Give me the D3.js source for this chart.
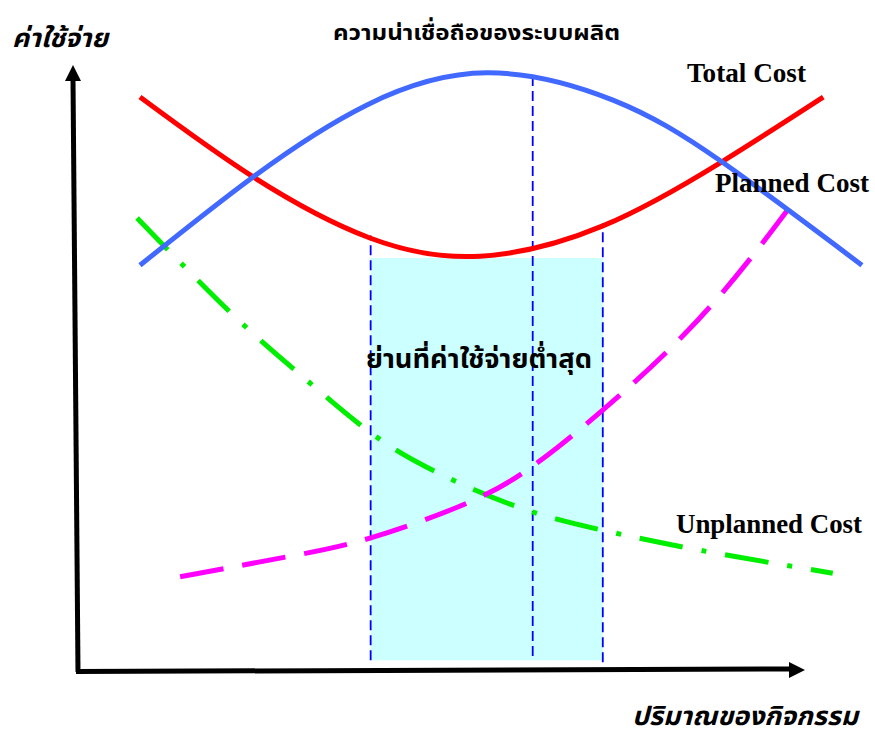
<!DOCTYPE html>
<html>
<head>
<meta charset="utf-8">
<script src="https://cdn.jsdelivr.net/npm/d3@7"></script>
<style>
  html, body { margin: 0; padding: 0; background: #ffffff; }
  svg { display: block; }
</style>
</head>
<body>
<script>
// ---------- data (abstract units: x = activity level, y = cost) ----------
const totalCostX   = [8.9, 24.4, 40.4, 55.5, 72.3, 88.6, 102.5];
const totalCostY   = [94.7, 81.5, 71.4, 68.4, 73.4, 84.0, 94.7];

const reliabilityX = [8.9, 24.4, 40.0, 56.4, 73.7, 88.6, 107.8];
const reliabilityY = [66.9, 81.5, 93.4, 98.7, 94.2, 84.0, 66.9];

const unplannedX   = [8.5, 21.2, 30.4, 40.4, 49.7, 61.0, 72.3, 85.6, 103.8];
const unplannedY   = [74.7, 59.2, 49.3, 39.3, 32.6, 26.8, 23.1, 19.8, 16.0];

const plannedX     = [14.4, 29.0, 40.4, 54.1, 66.0, 83.8, 97.9];
const plannedY     = [15.4, 18.7, 21.8, 27.8, 36.7, 55.9, 76.5];

// minimum-cost zone and guide lines
const zoneX        = [40.5, 72.3];          // left / right bounds of zone
const zoneTop      = 68.1;                  // top of shaded zone
const guideX       = [40.5, 62.7, 72.3];    // dashed verticals
const guideTop     = [71.8, 98.2, 73.8];    // where each dashed vertical stops
const guideBottom  = [1.6, 2.3, 1.3];

// texts
const yAxisTitle   = "ค่าใช้จ่าย";
const xAxisTitle   = "ปริมาณของกิจกรรม";
const topTitle     = "ความน่าเชื่อถือของระบบผลิต";
const zoneLabel    = "ย่านที่ค่าใช้จ่ายต่ำสุด";
const seriesLabels = ["Total Cost", "Planned Cost", "Unplanned Cost"];

// ---------- drawing ----------
const W = 875, H = 738;
const svg = d3.select("body").append("svg").attr("width", W).attr("height", H);

const x = d3.scaleLinear().domain([0, 100]).range([75, 805]);
const y = d3.scaleLinear().domain([0, 100]).range([670, 65]);

const thai = "'Noto Sans Thai', 'Noto Serif Thai', Tahoma, 'Leelawadee UI', 'DejaVu Sans', sans-serif";
const serif = "'Liberation Serif', 'Times New Roman', serif";

// shaded zone
svg.append("rect")
  .attr("x", x(zoneX[0]))
  .attr("y", y(zoneTop))
  .attr("width", x(zoneX[1]) - x(zoneX[0]))
  .attr("height", y(guideBottom[0]) - y(zoneTop))
  .attr("fill", "#ccffff");

// dashed guides
guideX.forEach((gx, i) => {
  svg.append("line")
    .attr("x1", x(gx)).attr("x2", x(gx))
    .attr("y1", y(guideBottom[i])).attr("y2", y(guideTop[i]))
    .attr("stroke", "#0000ff").attr("stroke-width", 1.8)
    .attr("stroke-dasharray", "10,5");
});

const toPts = (xs, ys) => xs.map((v, i) => [v, ys[i]]);
const line = d3.line().x(d => x(d[0])).y(d => y(d[1])).curve(d3.curveNatural);

// unplanned (green dash-dot)
svg.append("path").attr("d", line(toPts(unplannedX, unplannedY)))
  .attr("fill", "none").attr("stroke", "#00ee00").attr("stroke-width", 5)
  .attr("stroke-dasharray", "44,19,5,19");

// planned (magenta dashed)
svg.append("path").attr("d", line(toPts(plannedX, plannedY)))
  .attr("fill", "none").attr("stroke", "#ff00ff").attr("stroke-width", 5)
  .attr("stroke-dasharray", "44,19");

// total cost (red)
svg.append("path").attr("d", line(toPts(totalCostX, totalCostY)))
  .attr("fill", "none").attr("stroke", "#ff0000").attr("stroke-width", 5);

// reliability (blue)
svg.append("path").attr("d", line(toPts(reliabilityX, reliabilityY)))
  .attr("fill", "none").attr("stroke", "#4169ff").attr("stroke-width", 5);

// axes with arrows
const ax = svg.append("g");
ax.append("line")
  .attr("x1", x(0) + 3).attr("y1", y(0) + 2)
  .attr("x2", x(0) - 2).attr("y2", y(100) + 14)
  .attr("stroke", "#000").attr("stroke-width", 5);
ax.append("line")
  .attr("x1", x(0) + 1).attr("y1", y(0) + 1.5)
  .attr("x2", x(100) - 14).attr("y2", y(0) - 1)
  .attr("stroke", "#000").attr("stroke-width", 5);
// arrow heads
ax.append("path")
  .attr("d", `M${x(0) - 2},${y(100)} L${x(0) - 10},${y(100) + 16} L${x(0) + 6},${y(100) + 16} Z`)
  .attr("fill", "#000");
ax.append("path")
  .attr("d", `M${x(100)},${y(0)} L${x(100) - 16},${y(0) - 8} L${x(100) - 16},${y(0) + 8} Z`)
  .attr("fill", "#000");

// texts
svg.append("text").text(yAxisTitle)
  .attr("x", 12).attr("y", 47)
  .attr("font-family", thai).attr("font-size", 26).attr("font-weight", "bold").attr("font-style", "italic")
  .attr("textLength", 96).attr("lengthAdjust", "spacingAndGlyphs");

svg.append("text").text(xAxisTitle)
  .attr("x", 632).attr("y", 725)
  .attr("font-family", thai).attr("font-size", 26).attr("font-weight", "bold").attr("font-style", "italic")
  .attr("textLength", 226).attr("lengthAdjust", "spacingAndGlyphs");

svg.append("text").text(topTitle)
  .attr("x", 333).attr("y", 40)
  .attr("font-family", thai).attr("font-size", 22).attr("font-weight", "bold")
  .attr("textLength", 287).attr("lengthAdjust", "spacingAndGlyphs");

svg.append("text").text(zoneLabel)
  .attr("x", 366).attr("y", 368)
  .attr("font-family", thai).attr("font-size", 26).attr("font-weight", "bold")
  .attr("textLength", 226).attr("lengthAdjust", "spacingAndGlyphs");

const labelPos = [[687, 82, 119], [715, 192, 154], [676, 533, 186]];
seriesLabels.forEach((t, i) => {
  svg.append("text").text(t)
    .attr("x", labelPos[i][0]).attr("y", labelPos[i][1])
    .attr("font-family", serif).attr("font-size", 27).attr("font-weight", "bold")
    .attr("textLength", labelPos[i][2]).attr("lengthAdjust", "spacingAndGlyphs");
});
</script>
</body>
</html>
